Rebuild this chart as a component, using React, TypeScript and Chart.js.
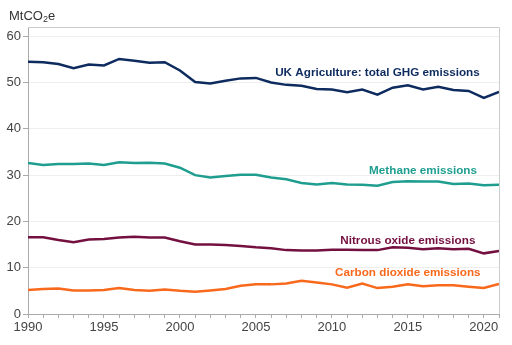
import React, { useEffect, useRef } from "react";
import { Chart, registerables } from "chart.js";

Chart.register(...registerables);

// Years and emissions (MtCO2e) for UK agriculture
const years = [
  1990, 1991, 1992, 1993, 1994, 1995, 1996, 1997, 1998, 1999, 2000, 2001, 2002, 2003, 2004, 2005,
  2006, 2007, 2008, 2009, 2010, 2011, 2012, 2013, 2014, 2015, 2016, 2017, 2018, 2019, 2020, 2021,
];

const totalGhg = [
  54.5, 54.4, 54.0, 53.1, 53.9, 53.7, 55.1, 54.7, 54.3, 54.4, 52.6, 50.1, 49.8, 50.4, 50.9, 51.0,
  50.0, 49.5, 49.3, 48.6, 48.5, 47.9, 48.5, 47.4, 48.9, 49.4, 48.5, 49.1, 48.4, 48.2, 46.7, 48.0,
];

const methane = [
  32.6, 32.2, 32.4, 32.4, 32.5, 32.2, 32.8, 32.6, 32.7, 32.5, 31.6, 30.0, 29.5, 29.8, 30.1, 30.1,
  29.5, 29.1, 28.3, 28.0, 28.3, 28.0, 27.9, 27.7, 28.5, 28.7, 28.6, 28.6, 28.1, 28.2, 27.8, 27.9,
];

const nitrousOxide = [
  16.6, 16.6, 16.0, 15.5, 16.1, 16.2, 16.5, 16.7, 16.5, 16.5, 15.7, 15.0, 15.0, 14.9, 14.7, 14.4,
  14.2, 13.8, 13.7, 13.7, 13.9, 13.9, 13.8, 13.8, 14.4, 14.3, 14.0, 14.2, 14.0, 14.1, 13.1, 13.6,
];

const carbonDioxide = [
  5.2, 5.4, 5.5, 5.1, 5.1, 5.2, 5.6, 5.2, 5.0, 5.3, 5.0, 4.8, 5.1, 5.4, 6.1, 6.4,
  6.4, 6.6, 7.2, 6.8, 6.4, 5.7, 6.6, 5.6, 5.9, 6.4, 6.0, 6.2, 6.2, 5.9, 5.6, 6.5,
];

const seriesNames = [
  "UK Agriculture: total GHG emissions",
  "Methane emissions",
  "Nitrous oxide emissions",
  "Carbon dioxide emissions",
];
const seriesColors = ["#0d2b5e", "#1f9e90", "#731040", "#f8691c"];
// Where each series name sits, in data units (year, MtCO2e)
const labelYears = [2013, 2016, 2015, 2015];
const labelValues = [52.2, 30.9, 15.9, 8.9];

const FONT = "'Liberation Sans', Arial, sans-serif";

const decorations = {
  id: "decorations",
  afterDatasetsDraw(chart: any) {
    const { ctx, chartArea, scales } = chart;
    ctx.save();
    // frame on top and right
    ctx.strokeStyle = "#cccccc";
    ctx.lineWidth = 1;
    ctx.beginPath();
    ctx.moveTo(chartArea.left, chartArea.top + 0.5);
    ctx.lineTo(chartArea.right + 0.5, chartArea.top + 0.5);
    ctx.lineTo(chartArea.right + 0.5, chartArea.bottom);
    ctx.stroke();

    // series names
    ctx.font = `bold 11.7px ${FONT}`;
    ctx.textAlign = "center";
    ctx.textBaseline = "middle";
    seriesNames.forEach((name, i) => {
      ctx.fillStyle = seriesColors[i];
      ctx.fillText(
        name,
        scales.x.getPixelForValue(labelYears[i]),
        scales.y.getPixelForValue(labelValues[i])
      );
    });

    // unit title with subscript
    ctx.fillStyle = "#333333";
    ctx.textAlign = "left";
    ctx.textBaseline = "alphabetic";
    ctx.font = `13px ${FONT}`;
    let x = 9;
    const base = 19.5;
    ctx.fillText("MtCO", x, base);
    x += ctx.measureText("MtCO").width;
    ctx.font = `9px ${FONT}`;
    ctx.fillText("2", x, base + 2.5);
    x += ctx.measureText("2").width;
    ctx.font = `13px ${FONT}`;
    ctx.fillText("e", x, base);
    ctx.restore();
  },
};

export default function App() {
  const ref = useRef<HTMLCanvasElement>(null);

  useEffect(() => {
    if (!ref.current) return;
    const data = [totalGhg, methane, nitrousOxide, carbonDioxide];
    const chart = new Chart(ref.current, {
      type: "line",
      data: {
        datasets: data.map((values, i) => ({
          label: seriesNames[i],
          data: values.map((v, j) => ({ x: years[j], y: v })),
          borderColor: seriesColors[i],
          backgroundColor: seriesColors[i],
          borderWidth: 2.5,
          pointRadius: 0,
          tension: 0,
        })),
      },
      options: {
        responsive: false,
        animation: false,
        devicePixelRatio: 1,
        layout: { padding: { top: 27, right: 13, left: 0, bottom: 0 } },
        plugins: { legend: { display: false }, tooltip: { enabled: false } },
        scales: {
          x: {
            type: "linear",
            min: 1990,
            max: 2021,
            afterFit: (s: any) => {
              s.height = 31;
            },
            ticks: {
              stepSize: 1,
              autoSkip: false,
              maxRotation: 0,
              padding: 2,
              color: "#444444",
              font: { family: FONT, size: 13 },
              callback: (v: any) => (Number(v) % 5 === 0 ? String(v) : ""),
            },
            grid: { drawOnChartArea: false, tickLength: 4, tickColor: "#aaaaaa" },
            border: { color: "#aaaaaa" },
          },
          y: {
            min: 0,
            max: 62,
            afterFit: (s: any) => {
              s.width = 28;
            },
            ticks: {
              stepSize: 10,
              includeBounds: false,
              padding: 2,
              color: "#444444",
              font: { family: FONT, size: 13 },
            },
            grid: { color: "#eeeeee", tickLength: 5, tickColor: "#aaaaaa" },
            border: { color: "#aaaaaa" },
          },
        },
      },
      plugins: [decorations],
    });
    return () => chart.destroy();
  }, []);

  return (
    <div style={{ position: "absolute", left: 0, top: 0, width: 512, height: 345 }}>
      <canvas ref={ref} width={512} height={345} style={{ display: "block" }} />
    </div>
  );
}
